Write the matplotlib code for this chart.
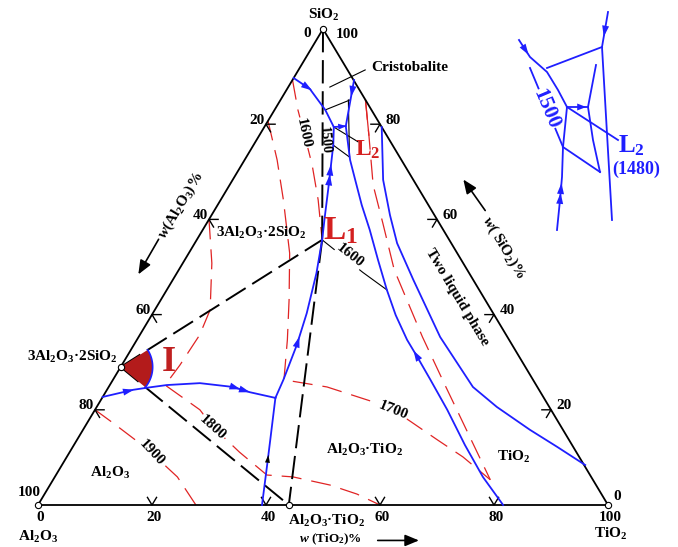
import numpy as np
import matplotlib.pyplot as plt
from matplotlib.patches import Polygon

plt.rcParams['font.family'] = ['Liberation Serif', 'DejaVu Serif']
plt.rcParams['font.weight'] = 'bold'
plt.rcParams['mathtext.fontset'] = 'custom'
plt.rcParams['mathtext.rm'] = 'Liberation Serif:bold'
plt.rcParams['mathtext.it'] = 'Liberation Serif:italic:bold'
plt.rcParams['mathtext.bf'] = 'Liberation Serif:bold'

# compositions in wt% as (TiO2, SiO2); Al2O3 is the rest
mullite = (0, 29)
al2o3_tio2 = (44, 0)
L1 = (22, 55.7)
L2 = (12.2, 79.4)

tick_vals = [0, 20, 40, 60, 80, 100]

# isotherms (red dashed)
iso1900_t = [0, 4.6, 10.2, 14.5, 21.5, 27.7]
iso1900_s = [20, 17.2, 13.7, 10.9, 5.9, 0]
iso1800_t = [0, 5.1, 9.7, 10.5, 10.2, 9.7, 18.4, 22.5, 29.8, 37.0, 41.8, 49.1, 54.8, 60]
iso1800_s = [60, 50.8, 41, 35.7, 29.4, 25.2, 20, 16.4, 11.1, 6.3, 5.9, 4.2, 2.3, 0]
iso1700_t = [0, 5.7, 11, 17.7, 22.5, 26.4, 30, 38.3, 48.8, 52.3, 56.5, 63.2, 69.5, 76.7]
iso1700_s = [80.7, 72.5, 64.1, 52.9, 43.1, 34.7, 26.3, 24.8, 21.4, 20, 17.6, 13.7, 10.1, 5.3]
iso1600_t = [0, 4.1, 8.2, 12.4, 17.1, 22]
iso1600_s = [89.3, 83, 77.3, 71.4, 64.1, 55.7]
iso1600k_t = [22, 32.5, 38.6]
iso1600k_s = [55.7, 48.9, 45.2]
liq2_t = [14.9, 19.2, 25.2, 30.9, 37.8, 49.8, 58.8, 66, 76.7]
liq2_s = [85.1, 77.7, 67.2, 59.2, 49.4, 35.3, 25.2, 17.2, 5.3]

# boundary curves (blue)
b1_t = [0, 4.6, 6.6, 10, 15.6, 21.8, 25.3, 30.4]
b1_s = [22.7, 24.2, 24.6, 25.2, 25.6, 24.8, 23.7, 22.5]
b2_t = [30.4, 33.9, 36, 39.3]
b2_s = [22.5, 13.7, 8.4, 0]
b3_t = [30.4, 29.9, 28.6, 27, 24.5, 22]
b3_s = [22.5, 26.3, 33.6, 40.3, 48.7, 55.7]
c_t = [22, 19.9, 17.8, 15.7, 14, 12.2]
c_s = [55.7, 60.9, 66.2, 71.4, 75.6, 79.4]
d_t = [0, 4, 8.9, 12.2]
d_s = [89.7, 87.4, 83, 79.4]
link_t = [12.2, 14.2]
link_s = [79.4, 79.6]
inner_t = [10.8, 14.2, 18.5, 21.5, 25.3, 29.3, 33.9, 38.6, 42.8, 47.4, 51, 55.7, 61.8, 68.6, 75.1, 81.6]
inner_s = [89.3, 79.6, 72.5, 68.3, 63, 57.8, 51.5, 45.2, 39.9, 34.7, 31.1, 26.3, 20, 12.6, 5.9, 0]
outer_t = [20.6, 26.4, 31.3, 35.5, 42.2, 52.9, 63.9, 70.2, 78.4, 85, 91.8]
outer_s = [79.4, 68.3, 60.9, 55, 47.3, 35.3, 24.8, 20.6, 15.8, 12.2, 8.4]

# thin black tie lines near L2
ties = [((8.9, 83), (12.2, 85.1)), ((11.9, 85.1), (18.1, 73.1)), ((14, 75.6), (18.1, 73.1)),
        ((12.2, 79.4), (18, 76.3)), ((7.3, 87.8), (11.7, 91.4))]

# enlarged sketch of the L2 corner (sketch units)
ins_a_u, ins_a_v = [108, 102, 112], [223, 188, 15]
ins_top_u, ins_top_v = [47, 102], [167, 188]
ins_d_u, ins_d_v = [19, 30, 47, 58, 67], [195, 178, 163, 145, 128]
ins_e_u, ins_e_v = [67, 63, 62, 60, 57], [128, 88, 58, 35, 5]
ins_f_u, ins_f_v = [67, 88], [128, 128]
ins_b_u, ins_b_v = [96, 88, 93, 100], [170, 128, 95, 63]
ins_low_u, ins_low_v = [63, 100], [88, 63]
ins_iso_u, ins_iso_v = [30, 63], [167, 88]
ins_ptr_u, ins_ptr_v = [67, 118], [128, 95]

BLUE = '#1f1fff'
RED = '#e02424'
SX, SY = 570, 476  # pixels per unit in the main axes


def tern(t, s):
    t = np.asarray(t, float) / 100
    s = np.asarray(s, float) / 100
    return t + s / 2, s


def arrowhead(axis, x, y, k, frac, sx, sy, color=BLUE, back=False, n=1, size=11, width=7):
    x = np.asarray(x, float)
    y = np.asarray(y, float)
    cx = (x[k] + frac * (x[k + 1] - x[k])) * sx
    cy = (y[k] + frac * (y[k + 1] - y[k])) * sy
    dx, dy = (x[k + 1] - x[k]) * sx, (y[k + 1] - y[k]) * sy
    if back:
        dx, dy = -dx, -dy
    L = np.hypot(dx, dy)
    ux, uy = dx / L, dy / L
    nx, ny = -uy, ux
    for i in range(n):
        tx = cx + ux * size / 2 - i * ux * size * 0.9
        ty = cy + uy * size / 2 - i * uy * size * 0.9
        bx, by = tx - ux * size, ty - uy * size
        pts = [(tx / sx, ty / sy),
               ((bx + nx * width / 2) / sx, (by + ny * width / 2) / sy),
               ((bx - nx * width / 2) / sx, (by - ny * width / 2) / sy)]
        axis.add_patch(Polygon(pts, closed=True, fc=color, ec='none', zorder=5))


fig = plt.figure(figsize=(6.78, 5.47), dpi=100)
ax = fig.add_axes([0, 0, 1, 1])
ax.set_xlim(-38 / SX, 640 / SX)
ax.set_ylim(-42 / SY, 505 / SY)
ax.axis('off')

# triangle
tx, ty = tern([0, 100, 0, 0], [0, 0, 100, 0])
ax.plot(tx, ty, color='black', lw=1.3, zorder=3)

# ticks
for v in tick_vals[1:-1]:
    for a, b, c in [((v, 0), (v, 1.6), (v - 1.6, 1.6)),
                    ((0, 100 - v), (1.6, 100 - v), (1.6, 98.4 - v)),
                    ((100 - v, v), (98.4 - v, v), (100 - v, v - 1.6))]:
        px, py = tern([b[0], a[0], c[0]], [b[1], a[1], c[1]])
        ax.plot(px, py, color='black', lw=1.0, zorder=3)

# tick labels
for v in tick_vals:
    x, y = tern(0, 100 - v)
    off = (-1, 3)
    if v == 0:
        off = (-9, -3)
    if v == 100:
        off = (2, 9)
    ax.annotate(str(v), (x, y), xytext=off, textcoords='offset points',
                ha='right', va='center', fontsize=11)
    x, y = tern(100 - v, v)
    off = (4, 3)
    if v == 100:
        off = (9, -4)
    if v == 0:
        off = (4, 6)
    ax.annotate(str(v), (x, y), xytext=off, textcoords='offset points',
                ha='left', va='center', fontsize=11)
    x, y = tern(v, 0)
    ax.annotate(str(v), (x, y), xytext=(1.5, -4), textcoords='offset points',
                ha='center', va='top', fontsize=11)

red_dash = dict(color=RED, lw=0.9, dashes=(16, 8), zorder=2)
for t, s in [(iso1900_t, iso1900_s), (iso1800_t, iso1800_s), (iso1700_t, iso1700_s),
             (iso1600_t, iso1600_s), (liq2_t, liq2_s)]:
    ax.plot(*tern(t, s), **red_dash)
ax.plot(*tern(liq2_t[:2], liq2_s[:2]), color=RED, lw=0.9, zorder=2)
ax.plot(*tern(iso1600k_t, iso1600k_s), color='black', lw=0.8, zorder=2)

# joins
blk_dash = dict(color='black', lw=1.4, dashes=(12, 4), zorder=2)
for p, q in [((0, 100), L1), (L1, al2o3_tio2), (mullite, L1), (mullite, al2o3_tio2)]:
    ax.plot(*tern([p[0], q[0]], [p[1], q[1]]), **blk_dash)

for p, q in ties:
    ax.plot(*tern([p[0], q[0]], [p[1], q[1]]), color='black', lw=0.8, zorder=2)

# boundary curves
for t, s in [(b1_t, b1_s), (b2_t, b2_s), (b3_t, b3_s), (c_t, c_s), (d_t, d_s),
             (link_t, link_s), (inner_t, inner_s), (outer_t, outer_s)]:
    ax.plot(*tern(t, s), color=BLUE, lw=1.3, zorder=4)

arrowhead(ax, *tern(b1_t, b1_s), 0, 0.85, SX, SY)
arrowhead(ax, *tern(b1_t, b1_s), 5, 0.7, SX, SY, n=2)
arrowhead(ax, *tern(b3_t, b3_s), 2, 0.1, SX, SY)
arrowhead(ax, *tern(b2_t, b2_s), 1, 0.75, SX, SY, color='black', back=True, size=8, width=5)
arrowhead(ax, *tern(c_t, c_s), 2, 0.8, SX, SY, n=2)
arrowhead(ax, *tern(d_t, d_s), 0, 0.85, SX, SY)
arrowhead(ax, *tern(inner_t, inner_s), 0, 0.25, SX, SY)
arrowhead(ax, *tern(inner_t, inner_s), 9, 0.9, SX, SY, back=True)
arrowhead(ax, *tern(link_t, link_s), 0, 0.7, SX, SY, size=8, width=6)

# primary field of mullite marked I
mx, my = tern(*mullite)
a1 = np.arctan2((tern(*L1)[1] - my) * SY, (tern(*L1)[0] - mx) * SX)
a2 = np.arctan2((tern(*al2o3_tio2)[1] - my) * SY, (tern(*al2o3_tio2)[0] - mx) * SX)
ang = np.linspace(a2, a1, 40)
arc_x = mx + 32 * np.cos(ang) / SX
arc_y = my + 32 * np.sin(ang) / SY
ax.add_patch(Polygon(np.column_stack([np.r_[mx, arc_x], np.r_[my, arc_y]]),
                     closed=True, fc='#b31b1b', ec='none', zorder=5))
ax.plot(arc_x, arc_y, color=BLUE, lw=1.2, zorder=5)

# compound points
for p in [(0, 0), (100, 0), (0, 100), mullite, al2o3_tio2]:
    ax.plot(*tern(*p), 'o', ms=4.5, mfc='white', mec='black', mew=0.8, zorder=6)

# text
T = ax.transAxes
def txt(fx, fy, s, **kw):
    kw.setdefault('fontsize', 11)
    kw.setdefault('ha', 'center')
    kw.setdefault('va', 'center')
    ax.text(fx, fy, s, transform=T, zorder=7, **kw)

wbox = dict(fc='white', ec='none', pad=0.3)
txt(0.478, 0.972, 'SiO$_2$')
txt(0.605, 0.876, 'Cristobalite')
txt(0.106, 0.347, '3Al$_2$O$_3$·2SiO$_2$')
txt(0.386, 0.574, '3Al$_2$O$_3$·2SiO$_2$')
txt(0.162, 0.135, 'Al$_2$O$_3$')
txt(0.538, 0.177, 'Al$_2$O$_3$·TiO$_2$')
txt(0.757, 0.165, 'TiO$_2$')
txt(0.482, 0.047, 'Al$_2$O$_3$·TiO$_2$')
txt(0.056, 0.018, 'Al$_2$O$_3$')
txt(0.900, 0.024, 'TiO$_2$')
txt(0.674, 0.457, 'Two liquid phase', rotation=-59)
txt(0.742, 0.548, r'$\mathit{w}$( SiO$_2$)%', rotation=-59)
txt(0.267, 0.625, r'$\mathit{w}$(Al$_2$O$_3$)%', rotation=59)
txt(0.487, 0.0, r'$\mathit{w}$ (TiO$_2$)%', va='bottom', fontsize=9.5)
txt(0.502, 0.578, 'L$_1$', color='#d42020', fontsize=24)
txt(0.543, 0.726, 'L$_2$', color='#d42020', fontsize=17)
txt(0.249, 0.338, 'I', color='#c02020', fontsize=26)
txt(0.224, 0.172, '1900', rotation=-47, bbox=wbox)
txt(0.314, 0.219, '1800', rotation=-42, bbox=wbox)
txt(0.580, 0.250, '1700', rotation=-22, bbox=wbox)
txt(0.516, 0.532, '1600', rotation=-38, bbox=wbox)
txt(0.447, 0.757, '1600', rotation=-78, bbox=wbox)
txt(0.479, 0.744, '1500', rotation=-85, fontsize=10)

arrow_kw = dict(arrowstyle='-|>,head_length=0.6,head_width=0.25', color='black', lw=1.2,
                mutation_scale=14)
ax.annotate('', xy=(0.202, 0.494), xytext=(0.236, 0.567), xycoords=T, arrowprops=arrow_kw)
ax.annotate('', xy=(0.681, 0.676), xytext=(0.718, 0.611), xycoords=T, arrowprops=arrow_kw)
ax.annotate('', xy=(0.622, 0.012), xytext=(0.553, 0.012), xycoords=T, arrowprops=arrow_kw)

# enlarged sketch of L2
axi = fig.add_axes([500 / 678, 1 - 235 / 547, 178 / 678, 235 / 547])
axi.set_xlim(0, 178)
axi.set_ylim(0, 235)
axi.axis('off')
for u, v in [(ins_a_u, ins_a_v), (ins_top_u, ins_top_v), (ins_d_u, ins_d_v), (ins_e_u, ins_e_v),
             (ins_f_u, ins_f_v), (ins_b_u, ins_b_v), (ins_low_u, ins_low_v),
             (ins_iso_u, ins_iso_v), (ins_ptr_u, ins_ptr_v)]:
    axi.plot(u, v, color=BLUE, lw=1.3)
arrowhead(axi, ins_a_u, ins_a_v, 0, 0.55, 1, 1)
arrowhead(axi, ins_d_u, ins_d_v, 0, 0.6, 1, 1)
arrowhead(axi, ins_f_u, ins_f_v, 0, 0.7, 1, 1, size=9)
arrowhead(axi, ins_e_u, ins_e_v, 2, 0.5, 1, 1, back=True, n=2)
axi.text(46, 126, '1500', color=BLUE, fontsize=15, rotation=-67, ha='center', va='center',
         bbox=dict(fc='white', ec='none', pad=0.2), zorder=6)
axi.text(131, 89, 'L$_2$', color=BLUE, fontsize=18, ha='center', va='center')
axi.text(136, 66, '(1480)', color=BLUE, fontsize=13, ha='center', va='center')

fig.savefig('out.png', dpi=100)
